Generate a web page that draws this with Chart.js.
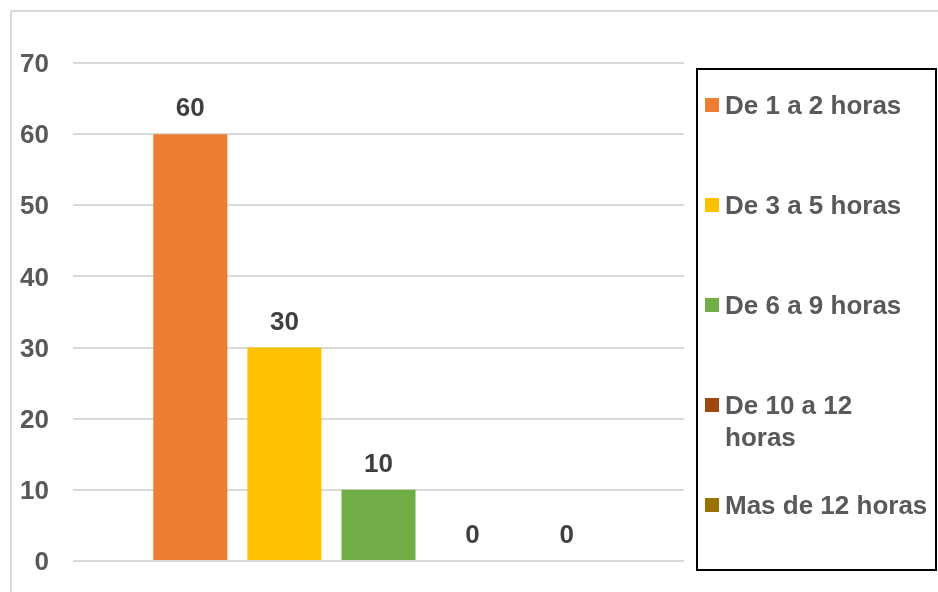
<!DOCTYPE html>
<html>
<head>
<meta charset="utf-8">
<script src="https://cdn.jsdelivr.net/npm/chart.js@4/dist/chart.umd.min.js"></script>
<style>
  html, body { margin: 0; padding: 0; background: #ffffff; }
  #wrap { position: relative; width: 938px; height: 592px; }
</style>
</head>
<body>
<div id="wrap"><canvas id="c" width="938" height="592"></canvas></div>
<script>
// One group of bars, one dataset per time range
const categories = [''];
const seriesNames = ['De 1 a 2 horas', 'De 3 a 5 horas', 'De 6 a 9 horas', 'De 10 a 12 horas', 'Mas de 12 horas'];
const seriesValues = [60, 30, 10, 0, 0];
const seriesColors = ['#ED7D31', '#FFC000', '#70AD47', '#9E480E', '#997300'];
const yTicks = [0, 10, 20, 30, 40, 50, 60, 70];

const FONT = '"Liberation Sans", Arial, sans-serif';

// Light frame around the whole chart
const framePlugin = {
  id: 'frame',
  beforeDraw(chart) {
    const ctx = chart.ctx;
    ctx.save();
    ctx.fillStyle = '#ffffff';
    ctx.fillRect(0, 0, chart.width, chart.height);
    ctx.strokeStyle = '#d9d9d9';
    ctx.lineWidth = 2;
    ctx.strokeRect(11, 11, chart.width + 20, chart.height + 20);
    ctx.restore();
  }
};

// Value written above each bar
const valueLabels = {
  id: 'valueLabels',
  afterDatasetsDraw(chart) {
    const ctx = chart.ctx;
    ctx.save();
    ctx.font = 'bold 26px ' + FONT;
    ctx.fillStyle = '#404040';
    ctx.textAlign = 'center';
    ctx.textBaseline = 'middle';
    chart.data.datasets.forEach((ds, i) => {
      const meta = chart.getDatasetMeta(i);
      meta.data.forEach((bar, j) => {
        ctx.fillText(String(ds.data[j]), bar.x, bar.y - 25);
      });
    });
    ctx.restore();
  }
};

// Boxed legend on the right, one row per dataset, wrapping long names
const boxLegend = {
  id: 'boxLegend',
  afterDraw(chart) {
    const ctx = chart.ctx;
    const box = { x: 697, y: 69, w: 239, h: 501 };
    ctx.save();
    ctx.strokeStyle = '#000000';
    ctx.lineWidth = 2;
    ctx.strokeRect(box.x, box.y, box.w, box.h);
    ctx.font = 'bold 26px ' + FONT;
    ctx.textBaseline = 'middle';
    ctx.textAlign = 'left';
    const textX = 725, maxW = 204, lineH = 32, rowH = 100, firstY = 107;
    chart.data.datasets.forEach((ds, i) => {
      const cy = firstY + i * rowH;
      ctx.fillStyle = ds.backgroundColor;
      ctx.fillRect(705, cy - 9, 14, 14);
      // word wrap
      const words = ds.label.split(' ');
      const lines = [];
      let cur = '';
      words.forEach(w => {
        const t = cur ? cur + ' ' + w : w;
        if (ctx.measureText(t).width > maxW && cur) { lines.push(cur); cur = w; }
        else cur = t;
      });
      if (cur) lines.push(cur);
      ctx.fillStyle = '#595959';
      lines.forEach((ln, k) => ctx.fillText(ln, textX, cy + k * lineH));
    });
    ctx.restore();
  }
};

const datasets = seriesNames.map((name, i) => ({
  label: name,
  data: [seriesValues[i]],
  backgroundColor: seriesColors[i],
  borderWidth: 0,
  categoryPercentage: 0.77,
  barPercentage: 0.787
}));

new Chart(document.getElementById('c'), {
  type: 'bar',
  data: { labels: categories, datasets },
  options: {
    responsive: false,
    animation: false,
    devicePixelRatio: 1,
    layout: { padding: { left: 10, right: 254, top: 63, bottom: 31 } },
    plugins: { legend: { display: false }, tooltip: { enabled: false } },
    scales: {
      x: { display: false },
      y: {
        min: 0,
        max: 70,
        afterBuildTicks(scale) { scale.ticks = yTicks.map(v => ({ value: v })); },
        afterFit(scale) {
          scale.width = 63;
          scale.paddingTop = 0;
          scale.paddingBottom = 0;
        },
        border: { display: false },
        grid: { color: '#d9d9d9', lineWidth: 2, drawTicks: false },
        ticks: {
          padding: 24,
          labelOffset: 2,
          color: '#595959',
          font: { family: FONT, size: 26, weight: 'bold' }
        }
      }
    }
  },
  plugins: [framePlugin, valueLabels, boxLegend]
});
</script>
</body>
</html>
